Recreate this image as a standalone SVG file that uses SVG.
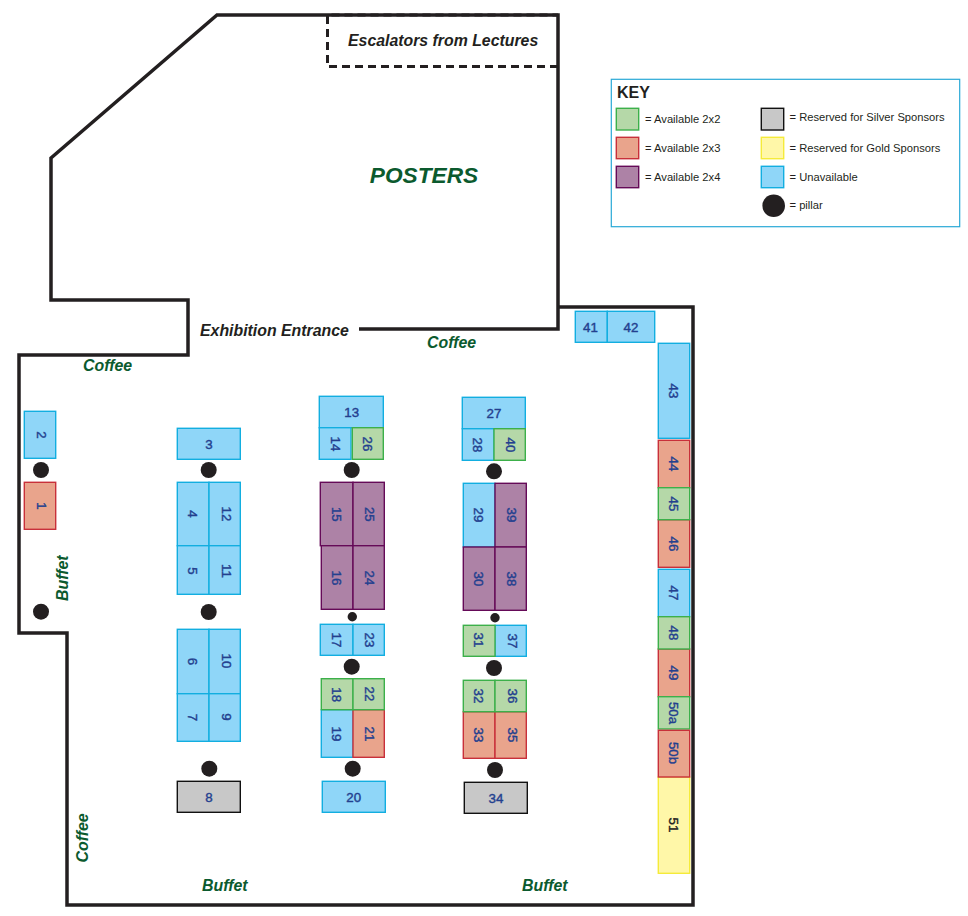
<svg xmlns="http://www.w3.org/2000/svg" width="968" height="916" viewBox="0 0 968 916">
<style>
text{font-family:"Liberation Sans",Arial,sans-serif}
.wall{fill:none;stroke:#231f20;stroke-width:3.500;stroke-linejoin:miter}
.dash{fill:none;stroke:#231f20;stroke-width:3;stroke-dasharray:8 5}
.b{stroke-width:1.400}
.blue{fill:#8fd6f8;stroke:#12aee0}
.green{fill:#b5d8a8;stroke:#3cb04a}
.red{fill:#e9a48c;stroke:#c8303a}
.purple{fill:#ad82a6;stroke:#650a58}
.grey{fill:#c8c8c8;stroke:#111}
.yellow{fill:#fff7a8;stroke:#f5eb3a}
.n{font-size:13.300px;fill:#23408f;text-anchor:middle;stroke:#23408f;stroke-width:.4}
.nd{fill:#222;stroke:#222}
.p{fill:#231f20}
.area{font-weight:bold;font-style:italic;font-size:15.900px;fill:#0b5a2e}
.dark{font-weight:bold;font-style:italic;font-size:15.850px;fill:#231f20}
.k{font-size:11.200px;fill:#231f20}
</style>
<rect width="968" height="916" fill="#fff"/>
<g id="walls">
<path class="wall" d="M359 329H558V15H217L51 158V300H188V355H19V633H67V905H693V307H558"/>
<path class="dash" d="M558 66.500H327.500V15H558"/>
</g>
<g id="labels">
<text x="348" y="46" class="dark">Escalators from Lectures</text>
<text x="424" y="183" text-anchor="middle" font-size="22.700" font-weight="bold" font-style="italic" fill="#0b5a2e">POSTERS</text>
<text x="200" y="336" class="dark">Exhibition Entrance</text>
<text x="427" y="348" class="area">Coffee</text>
<text x="83" y="371" class="area">Coffee</text>
<text transform="translate(88.300,862.500) rotate(-90)" class="area">Coffee</text>
<text transform="translate(68,601) rotate(-90)" class="area">Buffet</text>
<text x="202" y="890.500" class="area">Buffet</text>
<text x="522" y="890.500" class="area">Buffet</text>
</g>
<g id="booth-2"><rect class="b blue" x="24.300" y="411.300" width="31.400" height="47"/><text class="n" transform="translate(40.500,435) rotate(90)" y="4">2</text></g>
<g id="booth-1"><rect class="b red" x="24.300" y="482.300" width="31.400" height="47"/><text class="n" transform="translate(40.500,506) rotate(90)" y="4">1</text></g>
<g id="booth-3"><rect class="b blue" x="177.300" y="428.300" width="63" height="31"/><text class="n" x="209" y="449">3</text></g>
<g id="booth-4"><rect class="b blue" x="177.300" y="482.300" width="31.700" height="63.400"/><text class="n" transform="translate(192.300,514) rotate(90)" y="4">4</text></g>
<g id="booth-12"><rect class="b blue" x="209" y="482.300" width="31.300" height="63.400"/><text class="n" transform="translate(226,514) rotate(90)" y="4">12</text></g>
<g id="booth-5"><rect class="b blue" x="177.300" y="545.700" width="31.700" height="48.600"/><text class="n" transform="translate(192.300,571) rotate(90)" y="4">5</text></g>
<g id="booth-11"><rect class="b blue" x="209" y="545.700" width="31.300" height="48.600"/><text class="n" transform="translate(226,571) rotate(90)" y="4">11</text></g>
<g id="booth-6"><rect class="b blue" x="177.300" y="629.300" width="31.700" height="64.400"/><text class="n" transform="translate(192.300,661.500) rotate(90)" y="4">6</text></g>
<g id="booth-10"><rect class="b blue" x="209" y="629.300" width="31.300" height="64.400"/><text class="n" transform="translate(226,661) rotate(90)" y="4">10</text></g>
<g id="booth-7"><rect class="b blue" x="177.300" y="693.700" width="31.700" height="47.600"/><text class="n" transform="translate(192.300,717.500) rotate(90)" y="4">7</text></g>
<g id="booth-9"><rect class="b blue" x="209" y="693.700" width="31.300" height="47.600"/><text class="n" transform="translate(226,717) rotate(90)" y="4">9</text></g>
<g id="booth-8"><rect class="b grey" x="177.300" y="781.300" width="63" height="31"/><text class="n" x="209" y="802">8</text></g>
<g id="booth-13"><rect class="b blue" x="319.300" y="396.300" width="64" height="31.400"/><text class="n" x="351.700" y="417">13</text></g>
<g id="booth-14"><rect class="b blue" x="319.300" y="427.700" width="31.700" height="31.600"/><text class="n" transform="translate(334.700,444) rotate(90)" y="4">14</text></g>
<g id="booth-26"><rect class="b green" x="352.300" y="427.700" width="31" height="31.600"/><text class="n" transform="translate(367.300,444) rotate(90)" y="4">26</text></g>
<g id="booth-15"><rect class="b purple" x="320.300" y="482.300" width="32.700" height="63.400"/><text class="n" transform="translate(335.700,514.300) rotate(90)" y="4">15</text></g>
<g id="booth-25"><rect class="b purple" x="353" y="482.300" width="31.300" height="63.400"/><text class="n" transform="translate(368.700,514.300) rotate(90)" y="4">25</text></g>
<g id="booth-16"><rect class="b purple" x="321.300" y="545.700" width="31.700" height="63.600"/><text class="n" transform="translate(336,578) rotate(90)" y="4">16</text></g>
<g id="booth-24"><rect class="b purple" x="353" y="545.700" width="31.300" height="63.600"/><text class="n" transform="translate(368.700,578) rotate(90)" y="4">24</text></g>
<g id="booth-17"><rect class="b blue" x="320.300" y="624.300" width="32.700" height="31"/><text class="n" transform="translate(336,640) rotate(90)" y="4">17</text></g>
<g id="booth-23"><rect class="b blue" x="353" y="624.300" width="31.300" height="31"/><text class="n" transform="translate(368.700,640) rotate(90)" y="4">23</text></g>
<g id="booth-19"><rect class="b blue" x="321.300" y="709.700" width="31.700" height="47.600"/><text class="n" transform="translate(336,734) rotate(90)" y="4">19</text></g>
<g id="booth-21"><rect class="b red" x="353" y="709.700" width="31.300" height="47.600"/><text class="n" transform="translate(368.700,734) rotate(90)" y="4">21</text></g>
<g id="booth-18"><rect class="b green" x="321.300" y="678.700" width="31.700" height="31"/><text class="n" transform="translate(336,694.700) rotate(90)" y="4">18</text></g>
<g id="booth-22"><rect class="b green" x="353" y="678.700" width="31.300" height="31"/><text class="n" transform="translate(368.700,694) rotate(90)" y="4">22</text></g>
<g id="booth-20"><rect class="b blue" x="322.300" y="781.300" width="63" height="31"/><text class="n" x="353.700" y="802">20</text></g>
<g id="booth-27"><rect class="b blue" x="462.300" y="397.300" width="63" height="31.400"/><text class="n" x="494" y="418">27</text></g>
<g id="booth-28"><rect class="b blue" x="462.300" y="428.700" width="31.700" height="31.600"/><text class="n" transform="translate(477,445) rotate(90)" y="4">28</text></g>
<g id="booth-40"><rect class="b green" x="494" y="428.700" width="31.300" height="31.600"/><text class="n" transform="translate(510,445) rotate(90)" y="4">40</text></g>
<g id="booth-29"><rect class="b blue" x="463.300" y="483.300" width="31.700" height="63.700"/><text class="n" transform="translate(478,515) rotate(90)" y="4">29</text></g>
<g id="booth-39"><rect class="b purple" x="495" y="483.300" width="31.300" height="63.700"/><text class="n" transform="translate(511,515) rotate(90)" y="4">39</text></g>
<g id="booth-30"><rect class="b purple" x="463.300" y="547" width="31.700" height="63.300"/><text class="n" transform="translate(478,579) rotate(90)" y="4">30</text></g>
<g id="booth-38"><rect class="b purple" x="495" y="547" width="31.300" height="63.300"/><text class="n" transform="translate(511,579) rotate(90)" y="4">38</text></g>
<g id="booth-37"><rect class="b blue" x="495" y="625.300" width="31.300" height="31"/><text class="n" transform="translate(511.700,641) rotate(90)" y="4">37</text></g>
<g id="booth-31"><rect class="b green" x="463.300" y="625.300" width="31.700" height="31"/><text class="n" transform="translate(478,640) rotate(90)" y="4">31</text></g>
<g id="booth-33"><rect class="b red" x="463.300" y="711.700" width="31.700" height="46.600"/><text class="n" transform="translate(478,735) rotate(90)" y="4">33</text></g>
<g id="booth-35"><rect class="b red" x="495" y="711.700" width="31.300" height="46.600"/><text class="n" transform="translate(511.700,735) rotate(90)" y="4">35</text></g>
<g id="booth-32"><rect class="b green" x="463.300" y="680.300" width="31.700" height="31.400"/><text class="n" transform="translate(478,696) rotate(90)" y="4">32</text></g>
<g id="booth-36"><rect class="b green" x="495" y="680.300" width="31.300" height="31.400"/><text class="n" transform="translate(511.700,696) rotate(90)" y="4">36</text></g>
<g id="booth-34"><rect class="b grey" x="464.300" y="782.300" width="63" height="31"/><text class="n" x="496" y="803">34</text></g>
<g id="booth-41"><rect class="b blue" x="575.300" y="311.300" width="32" height="31"/><text class="n" x="590.500" y="332">41</text></g>
<g id="booth-42"><rect class="b blue" x="607.300" y="311.300" width="47.400" height="31"/><text class="n" x="631" y="332">42</text></g>
<g id="booth-43"><rect class="b blue" x="658.300" y="343.300" width="31.400" height="95"/><text class="n" transform="translate(673,391) rotate(90)" y="4">43</text></g>
<g id="booth-44"><rect class="b red" x="658.300" y="440.300" width="31.400" height="47.400"/><text class="n" transform="translate(673,464) rotate(90)" y="4">44</text></g>
<g id="booth-46"><rect class="b red" x="658.300" y="519.700" width="31.400" height="47.600"/><text class="n" transform="translate(673,544) rotate(90)" y="4">46</text></g>
<g id="booth-45"><rect class="b green" x="658.300" y="487.700" width="31.400" height="32"/><text class="n" transform="translate(673,504) rotate(90)" y="4">45</text></g>
<g id="booth-47"><rect class="b blue" x="658.300" y="569.300" width="31.400" height="47.400"/><text class="n" transform="translate(673,593) rotate(90)" y="4">47</text></g>
<g id="booth-49"><rect class="b red" x="658.300" y="649" width="31.400" height="47.700"/><text class="n" transform="translate(673,673) rotate(90)" y="4">49</text></g>
<g id="booth-48"><rect class="b green" x="658.300" y="616.700" width="31.400" height="32.300"/><text class="n" transform="translate(673,633) rotate(90)" y="4">48</text></g>
<g id="booth-50a"><rect class="b green" x="658.300" y="696.700" width="31.400" height="32.300"/><text class="n" transform="translate(673,713) rotate(90)" y="4">50a</text></g>
<g id="booth-51"><rect class="b yellow" x="658.300" y="777" width="31.400" height="96.300"/><text class="n nd" transform="translate(673,825) rotate(90)" y="4">51</text></g>
<g id="booth-50b"><rect class="b red" x="658.300" y="730.300" width="31.400" height="46.700"/><text class="n" transform="translate(673,753) rotate(90)" y="4">50b</text></g>
<g id="pillars">
<circle class="p" cx="41" cy="470" r="8"/>
<circle class="p" cx="41" cy="611.700" r="8"/>
<circle class="p" cx="208.700" cy="470" r="8"/>
<circle class="p" cx="208.700" cy="612" r="8"/>
<circle class="p" cx="209.300" cy="768.700" r="8"/>
<circle class="p" cx="351.700" cy="470" r="8"/>
<circle class="p" cx="352.300" cy="616.700" r="4.700"/>
<circle class="p" cx="351.700" cy="666.700" r="8"/>
<circle class="p" cx="352.700" cy="768.700" r="8"/>
<circle class="p" cx="494" cy="471.300" r="8"/>
<circle class="p" cx="495" cy="617.700" r="4.700"/>
<circle class="p" cx="494" cy="668" r="8"/>
<circle class="p" cx="495" cy="770" r="8"/>
</g>
<g id="key">
<rect x="611.300" y="79.300" width="348.400" height="147.400" fill="#fff" stroke="#2aa9d6" stroke-width="1.200"/>
<text x="617" y="98" font-size="16" font-weight="bold" fill="#231f20">KEY</text>
<rect class="b green" x="616.300" y="108.300" width="22.400" height="21.700"/>
<rect class="b red" x="616.300" y="137.300" width="22.400" height="21.400"/>
<rect class="b purple" x="616.300" y="166.300" width="22.400" height="21.400"/>
<rect class="b grey" x="761.300" y="108.300" width="22.400" height="21.700"/>
<rect class="b yellow" x="761.300" y="137.300" width="22.400" height="21.400"/>
<rect class="b blue" x="761.300" y="166.300" width="22.400" height="21.400"/>
<circle class="p" cx="773.700" cy="205.700" r="11.300"/>
<text class="k" x="645" y="123">= Available 2x2</text>
<text class="k" x="645" y="152">= Available 2x3</text>
<text class="k" x="645" y="181">= Available 2x4</text>
<text class="k" x="789.500" y="121">= Reserved for Silver Sponsors</text>
<text class="k" x="789.500" y="152">= Reserved for Gold Sponsors</text>
<text class="k" x="789.500" y="181">= Unavailable</text>
<text class="k" x="789.500" y="209">= pillar</text>
</g>
</svg>
